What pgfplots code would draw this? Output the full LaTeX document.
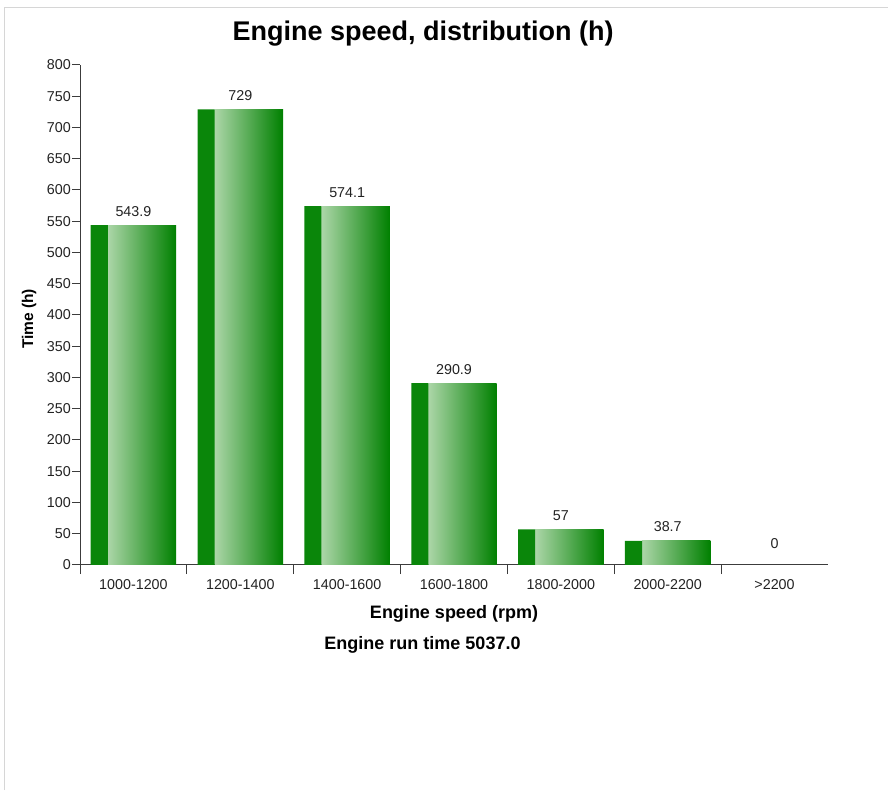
\documentclass[border=0pt]{standalone}
\usepackage{fontspec}
\setmainfont{Liberation Sans}
\usepackage{pgfplots}
\pgfplotsset{compat=1.18}
\definecolor{strip}{RGB}{10,134,10}
\definecolor{glight}{RGB}{172,214,168}
\definecolor{gdark}{RGB}{0,128,0}
\definecolor{frame}{RGB}{214,214,214}
\definecolor{txt}{RGB}{34,34,34}
\definecolor{axc}{RGB}{60,60,60}
\pgfplotsset{gradbar/.style={ybar, bar width=0.64, bar shift=0.08, draw=none, left color=glight, right color=gdark}}
\begin{document}
\begin{tikzpicture}[x=1pt,y=1pt]
\useasboundingbox (0,0) rectangle (888,790);
\draw[frame, line width=1pt] (4.5,0) -- (4.5,782) -- (888,782);
\begin{axis}[
  at={(80pt,225pt)}, anchor=south west,
  scale only axis, width=748pt, height=500pt,
  xmin=0, xmax=7, ymin=0, ymax=800,
  axis lines*=left,
  axis line style={-, line width=1pt, axc},
  ytick={0,50,...,800},
  xtick={0.5,1.5,...,6.5},
  xticklabels={1000-1200,1200-1400,1400-1600,1600-1800,1800-2000,2000-2200,{>2200}},
  minor xtick={0,1,...,6},
  tick align=outside,
  major tick length=8pt, minor tick length=9pt,
  tick style={axc, line width=1pt},
  major x tick style={draw=none},
  ticklabel style={font=\fontsize{14.3}{16}\selectfont, text=txt},
  /pgf/number format/assume math mode=true,
  yticklabel style={inner sep=1pt},
  xticklabel style={inner sep=0pt, yshift=-6pt},
  clip=false,
]
% gradient part of each bar (one plot per bar so each gets its own shading)
\addplot[gradbar] coordinates {(0.5,543.9)};
\addplot[gradbar] coordinates {(1.5,729)};
\addplot[gradbar] coordinates {(2.5,574.1)};
\addplot[gradbar] coordinates {(3.5,290.9)};
\addplot[gradbar] coordinates {(4.5,57)};
\addplot[gradbar] coordinates {(5.5,38.7)};
% dark strip on the left of each bar
\addplot[ybar, bar width=0.16, bar shift=-0.32, draw=none, fill=strip]
  coordinates {(0.5,543.9) (1.5,729) (2.5,574.1) (3.5,290.9) (4.5,57) (5.5,38.7)};
% value labels
\addplot[ybar, bar width=0.8, bar shift=0, draw=none, fill=none,
  point meta=explicit symbolic, nodes near coords,
  every node near coord/.style={anchor=base, yshift=9pt, inner sep=0pt, font=\fontsize{14.3}{16}\selectfont, text=txt}]
  coordinates {(0.5,543.9)[543.9] (1.5,729)[729] (2.5,574.1)[574.1] (3.5,290.9)[290.9] (4.5,57)[57] (5.5,38.7)[38.7]};
\addplot[ybar, bar width=0.8, bar shift=0, draw=none, fill=none,
  point meta=explicit symbolic, nodes near coords,
  every node near coord/.style={anchor=base, yshift=16pt, inner sep=0pt, font=\fontsize{14.3}{16}\selectfont, text=txt}]
  coordinates {(6.5,0)[0]};
\end{axis}
\node[anchor=base, font=\fontsize{27}{32}\selectfont\bfseries] at (423,749) {Engine speed, distribution (h)};
\node[anchor=base, font=\fontsize{18}{22}\selectfont\bfseries] at (454,172) {Engine speed (rpm)};
\node[anchor=base, font=\fontsize{18}{22}\selectfont\bfseries] at (422.5,141) {Engine run time 5037.0};
\node[anchor=base, rotate=90, font=\fontsize{15.5}{18}\selectfont\bfseries] at (33,471) {Time (h)};
\end{tikzpicture}
\end{document}
